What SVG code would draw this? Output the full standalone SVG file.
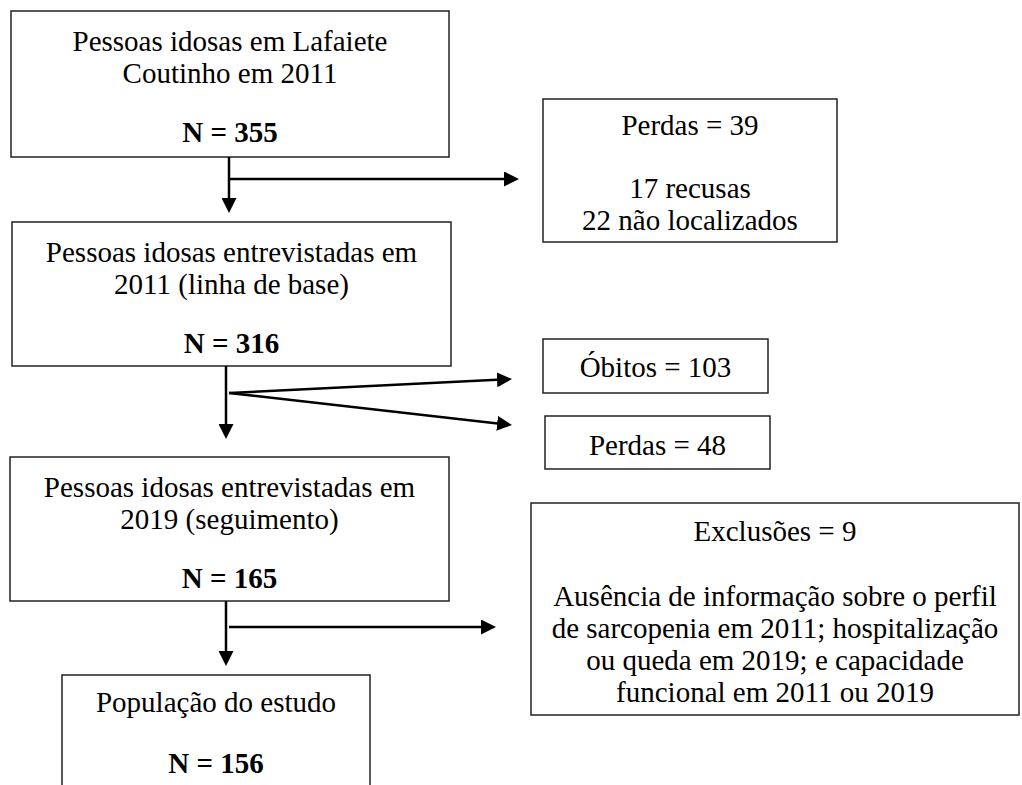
<svg xmlns="http://www.w3.org/2000/svg" width="1022" height="785" viewBox="0 0 1022 785">
<defs>
<style>
.box{fill:#fff;stroke:#222;stroke-width:1.5}
.t{font-family:"Liberation Serif","Times New Roman",serif;font-size:29px;fill:#000;text-anchor:middle}
.b{font-weight:bold}
.c{stroke:#000;stroke-width:2.5;fill:none;marker-end:url(#ah)}
</style>
<marker id="ah" markerUnits="userSpaceOnUse" markerWidth="15" markerHeight="15" refX="5" refY="7.5" orient="auto" viewBox="0 0 15 15">
<path d="M0,0 L15,7.5 L0,15 z" fill="#000"/>
</marker>
</defs>
<rect width="1022" height="785" fill="#fff"/>
<g id="n1">
<rect class="box" x="11" y="11" width="438" height="146"/>
<text class="t" x="230" y="51">Pessoas idosas em Lafaiete</text>
<text class="t" x="230" y="83">Coutinho em 2011</text>
<text class="t b" x="230" y="142">N = 355</text>
</g>
<g id="n2">
<rect class="box" x="12" y="222" width="439" height="144"/>
<text class="t" x="231.5" y="262">Pessoas idosas entrevistadas em</text>
<text class="t" x="231.5" y="294">2011 (linha de base)</text>
<text class="t b" x="231.5" y="353">N = 316</text>
</g>
<g id="n3">
<rect class="box" x="10" y="457" width="439" height="144"/>
<text class="t" x="229.5" y="497">Pessoas idosas entrevistadas em</text>
<text class="t" x="229.5" y="529">2019 (seguimento)</text>
<text class="t b" x="229.5" y="588">N = 165</text>
</g>
<g id="n4">
<rect class="box" x="62" y="675" width="308" height="120"/>
<text class="t" x="216" y="712">População do estudo</text>
<text class="t b" x="216" y="773">N = 156</text>
</g>
<g id="n5">
<rect class="box" x="543" y="99" width="294" height="143"/>
<text class="t" x="690" y="135">Perdas = 39</text>
<text class="t" x="690" y="198">17 recusas</text>
<text class="t" x="690" y="230">22 não localizados</text>
</g>
<g id="n6">
<rect class="box" x="543" y="339" width="225" height="54"/>
<text class="t" x="655.5" y="377">Óbitos = 103</text>
</g>
<g id="n7">
<rect class="box" x="545" y="416" width="225" height="53"/>
<text class="t" x="657.5" y="455">Perdas = 48</text>
</g>
<g id="n8">
<rect class="box" x="531" y="503" width="488" height="212"/>
<text class="t" x="775" y="541">Exclusões = 9</text>
<text class="t" x="775" y="606">Ausência de informação sobre o perfil</text>
<text class="t" x="775" y="638">de sarcopenia em 2011; hospitalização</text>
<text class="t" x="775" y="670">ou queda em 2019; e capacidade</text>
<text class="t" x="775" y="702">funcional em 2011 ou 2019</text>
</g>
<g id="connectors">
<line class="c" x1="229" y1="157" x2="229" y2="203"/>
<line class="c" x1="229" y1="179" x2="509" y2="179"/>
<line class="c" x1="226" y1="366" x2="226" y2="429"/>
<line class="c" x1="229" y1="393" x2="502" y2="379.5"/>
<line class="c" x1="229" y1="393" x2="502.1" y2="423.9"/>
<line class="c" x1="226" y1="601" x2="226" y2="656"/>
<line class="c" x1="229" y1="627" x2="486" y2="627"/>
</g>
</svg>
